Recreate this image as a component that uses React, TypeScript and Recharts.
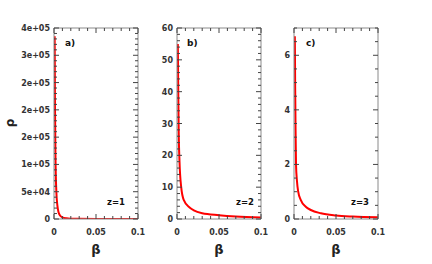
import React from 'react';
import { LineChart, Line, XAxis, YAxis } from 'recharts';

// ρ(β)
const betaA = [0.0008, 0.0012, 0.0018, 0.0028, 0.004, 0.0055, 0.0075, 0.01, 0.015, 0.02, 0.03, 0.05, 0.07, 0.1];
const rhoA = [335000, 200000, 110000, 50000, 25000, 12000, 6000, 3000, 1200, 600, 250, 80, 40, 15];

const betaB = [0.001, 0.0015, 0.002, 0.003, 0.005, 0.008, 0.015, 0.02, 0.03, 0.05, 0.07, 0.1];
const rhoB = [55, 40, 28, 18, 10, 6, 3.6, 2.7, 1.8, 1.2, 0.8, 0.5];

const betaC = [0.001, 0.0014, 0.0019, 0.0024, 0.0035, 0.005, 0.008, 0.014, 0.02, 0.032, 0.05, 0.07, 0.1];
const rhoC = [6.7, 4.8, 3.2, 2.0, 1.4, 1.0, 0.7, 0.45, 0.33, 0.21, 0.13, 0.09, 0.06];

// axis ticks
const xTicks = [0, 0.01, 0.02, 0.03, 0.04, 0.05, 0.06, 0.07, 0.08, 0.09, 0.1];
const xMajors = [0, 0.05, 0.1];
const xLabels = ['0', '0.05', '0.1'];

const yMajorsA = [0, 50000, 100000, 150000, 200000, 250000, 300000, 350000];
const yLabelsA = ['0', '5e+04', '1e+05', '2e+05', '2e+05', '2e+05', '3e+05', '4e+05'];
const yMajorsB = [0, 10, 20, 30, 40, 50, 60];
const yLabelsB = ['0', '10', '20', '30', '40', '50', '60'];
const yMajorsC = [0, 2, 4, 6];
const yLabelsC = ['0', '2', '4', '6'];

const steps = (step: number, max: number) => {
  const out: number[] = [];
  for (let i = 0; i * step <= max + 1e-9; i++) out.push(Number((i * step).toFixed(6)));
  return out;
};

const zip = (bs: number[], rs: number[]) => bs.map((b, i) => ({ b, r: rs[i] }));

const FRAME = '#8a8a8a';
const TICK = '#444';
const FONT = '"DejaVu Sans", sans-serif';

type Side = 'bottom' | 'top' | 'left' | 'right';

const makeTick = (side: Side, majors: number[], labels: string[] | null) => (props: any) => {
  const { x, y, payload } = props;
  const idx = majors.findIndex((m) => Math.abs(m - payload.value) < 1e-9);
  const len = idx >= 0 ? 5 : 3;
  let x2 = x, y2 = y;
  if (side === 'bottom') y2 = y - len;
  if (side === 'top') y2 = y + len;
  if (side === 'left') x2 = x + len;
  if (side === 'right') x2 = x - len;
  return (
    <g>
      <line x1={x} y1={y} x2={x2} y2={y2} stroke={TICK} strokeWidth={1} />
      {labels && idx >= 0 && side === 'bottom' && (
        <text x={x} y={y + 16} textAnchor="middle" fontSize={8} fontWeight="bold" fill="#333" fontFamily={FONT}>
          {labels[idx]}
        </text>
      )}
      {labels && idx >= 0 && side === 'left' && (
        <text x={x - 4} y={y + 3} textAnchor="end" fontSize={8} fontWeight="bold" fill="#333" fontFamily={FONT}>
          {labels[idx]}
        </text>
      )}
    </g>
  );
};

interface PanelProps {
  left: number;
  width: number;
  yWidth: number;
  data: { b: number; r: number }[];
  yMax: number;
  yTicks: number[];
  yMajors: number[];
  yLabels: string[];
  tag: string;
  tagX: number;
  zLabel: string;
  zX: number;
  showRho?: boolean;
}

const PLOT_W = 84;
const PLOT_TOP = 28;
const PLOT_BOTTOM = 219;

function Panel(p: PanelProps) {
  return (
    <div style={{ position: 'absolute', left: p.left, top: 0 }}>
      <LineChart
        width={p.width}
        height={264}
        data={p.data}
        margin={{ top: PLOT_TOP - 1, right: p.width - p.yWidth - PLOT_W - 1, bottom: 0, left: 0 }}
      >
        <XAxis
          xAxisId="bottom"
          dataKey="b"
          type="number"
          domain={[0, 0.1]}
          ticks={xTicks}
          interval={0}
          height={264 - PLOT_BOTTOM}
          tickSize={0}
          tickMargin={0}
          tickLine={false}
          axisLine={{ stroke: FRAME }}
          tick={makeTick('bottom', xMajors, xLabels)}
          allowDataOverflow
          label={{
            value: 'β',
            position: 'insideBottom',
            offset: 10,
            style: { fontSize: 13, fontWeight: 'bold', fill: '#222', fontFamily: FONT },
          }}
        />
        <XAxis
          xAxisId="top"
          orientation="top"
          dataKey="b"
          type="number"
          domain={[0, 0.1]}
          ticks={xTicks}
          interval={0}
          height={1}
          tickSize={0}
          tickMargin={0}
          tickLine={false}
          axisLine={{ stroke: FRAME }}
          tick={makeTick('top', xMajors, null)}
          allowDataOverflow
        />
        <YAxis
          yAxisId="left"
          type="number"
          domain={[0, p.yMax]}
          ticks={p.yTicks}
          interval={0}
          width={p.yWidth}
          tickSize={0}
          tickMargin={0}
          tickLine={false}
          axisLine={{ stroke: FRAME }}
          tick={makeTick('left', p.yMajors, p.yLabels)}
          allowDataOverflow
        />
        <YAxis
          yAxisId="right"
          orientation="right"
          type="number"
          domain={[0, p.yMax]}
          ticks={p.yTicks}
          interval={0}
          width={1}
          tickSize={0}
          tickMargin={0}
          tickLine={false}
          axisLine={{ stroke: FRAME }}
          tick={makeTick('right', p.yMajors, null)}
          allowDataOverflow
        />
        {/* invisible copy so the mirrored top/right axes get drawn */}
        <Line
          xAxisId="top"
          yAxisId="right"
          dataKey="r"
          stroke="none"
          dot={false}
          activeDot={false}
          isAnimationActive={false}
        />
        <Line
          xAxisId="bottom"
          yAxisId="left"
          dataKey="r"
          type="monotone"
          stroke="#ff0000"
          strokeWidth={2}
          dot={false}
          isAnimationActive={false}
        />
        <text x={p.tagX - p.left} y={46} fontSize={9} fontWeight="bold" fill="#111" fontFamily={FONT}>
          {p.tag}
        </text>
        <text x={p.zX - p.left} y={205} textAnchor="end" fontSize={8.5} fontWeight="bold" fill="#111" fontFamily={FONT}>
          {p.zLabel}
        </text>
        {p.showRho && (
          <text
            x={14}
            y={123}
            textAnchor="middle"
            transform="rotate(-90 14 123)"
            fontSize={12}
            fontWeight="bold"
            fill="#222"
            fontFamily={FONT}
          >
            ρ
          </text>
        )}
      </LineChart>
    </div>
  );
}

export default function App() {
  return (
    <div style={{ position: 'absolute', left: 0, top: 0, width: 432, height: 264, background: '#fff' }}>
      <Panel
        left={0}
        width={150}
        yWidth={54}
        data={zip(betaA, rhoA)}
        yMax={350000}
        yTicks={steps(10000, 350000)}
        yMajors={yMajorsA}
        yLabels={yLabelsA}
        tag="a)"
        tagX={65}
        zLabel="z=1"
        zX={125}
        showRho
      />
      <Panel
        left={130}
        width={140}
        yWidth={47}
        data={zip(betaB, rhoB)}
        yMax={60}
        yTicks={steps(2, 60)}
        yMajors={yMajorsB}
        yLabels={yLabelsB}
        tag="b)"
        tagX={187}
        zLabel="z=2"
        zX={254}
      />
      <Panel
        left={250}
        width={150}
        yWidth={44}
        data={zip(betaC, rhoC)}
        yMax={7}
        yTicks={steps(0.5, 7)}
        yMajors={yMajorsC}
        yLabels={yLabelsC}
        tag="c)"
        tagX={306}
        zLabel="z=3"
        zX={369}
      />
    </div>
  );
}
